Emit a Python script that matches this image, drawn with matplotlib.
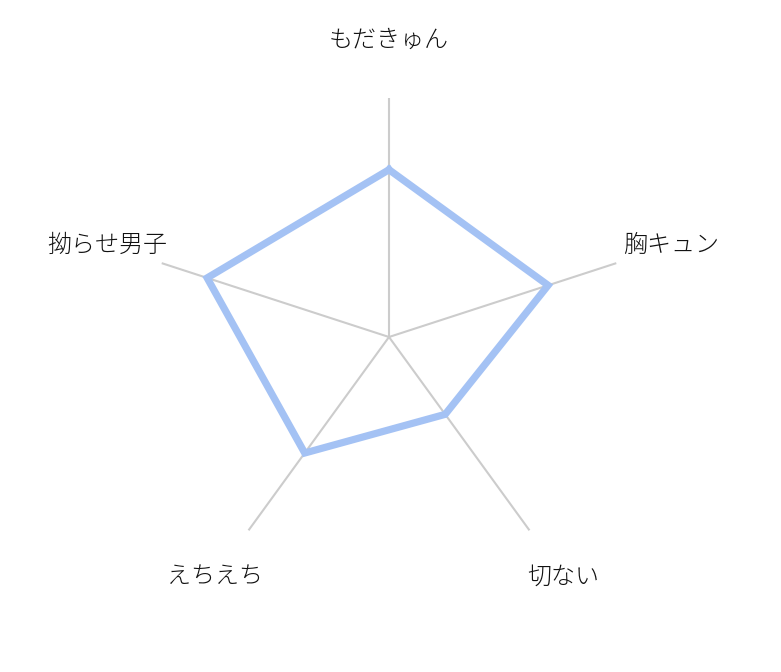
import numpy as np
import matplotlib.pyplot as plt

plt.rcParams['font.family'] = ['Noto Sans CJK JP', 'DejaVu Sans']

labels = ['もだきゅん', '胸キュン', '切ない', 'えちえち', '拗らせ男子']
values = [7, 7, 4, 6, 8]
max_value = 10

n = len(labels)
angles = np.linspace(0, 2 * np.pi, n, endpoint=False)

fig = plt.figure(figsize=(7.81, 6.72), dpi=100)
ax = fig.add_axes([150 / 781, 96 / 672, 478 / 781, 478 / 672], projection='polar')
ax.set_theta_offset(np.pi / 2)
ax.set_theta_direction(-1)
ax.set_ylim(0, max_value)

# spokes only
ax.set_xticks(angles)
ax.set_xticklabels([])
ax.set_yticks([])
ax.grid(False)
ax.spines['polar'].set_visible(False)
for a in angles:
    ax.plot([a, a], [0, max_value], color='#cccccc', lw=1.5, zorder=1)

vals = values + values[:1]
angs = np.concatenate([angles, angles[:1]])
ax.plot(angs, vals, color='#a4c2f4', lw=5.2, solid_joinstyle='miter', zorder=3, clip_on=False)

for a, lab in zip(angles, labels):
    ax.text(a, 12.4, lab, ha='center', va='center', fontsize=17.3,
            color='#111111', fontweight='light')

fig.savefig('out.png', dpi=100)
